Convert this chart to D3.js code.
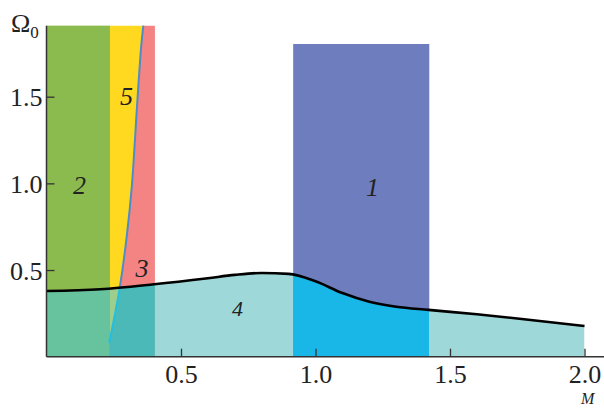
<!DOCTYPE html>
<html>
<head>
<meta charset="utf-8">
<script src="https://cdn.jsdelivr.net/npm/d3@7"></script>
<style>
  html, body { margin: 0; padding: 0; background: #fff; }
  svg { display: block; }
  svg text { font-family: "Liberation Serif", "Times New Roman", Times, "DejaVu Serif", serif !important; fill: #222; }
</style>
</head>
<body>
<svg id="chart" width="604" height="408"></svg>
<script>
// Upper boundary curve Ω0(M) of region 4
const curveM     = [0, 0.2, 0.4, 0.6, 0.7, 0.8, 0.9, 1.0, 1.1, 1.2, 1.3, 1.42, 1.6, 1.8, 2.0];
const curveOmega = [0.379, 0.389, 0.418, 0.453, 0.472, 0.483, 0.478, 0.435, 0.367, 0.317, 0.288, 0.27, 0.245, 0.212, 0.177];

// Line separating region 5 from region 3
const boundaryM     = [0.233, 0.255, 0.273, 0.298, 0.317, 0.338, 0.352, 0.360];
const boundaryOmega = [0.079, 0.25, 0.404, 0.69, 0.98, 1.48, 1.79, 1.91];

// Vertical zone edges along M
const zoneEdges = [0, 0.236, 0.403, 0.917, 1.423, 2.0];
const omegaTop = 1.91;      // top of regions 2, 3, 5
const rect1Top = 1.804;     // top of region 1

// Axis ticks
const xTicks = [0.5, 1.0, 1.5, 2.0];
const yTicks = [0.5, 1.0, 1.5];

// Region labels
const regionLabels = ["1", "2", "3", "4", "5"];
const labelM     = [1.212, 0.123, 0.355, 0.71, 0.297];
const labelOmega = [0.979, 0.988, 0.51, 0.275, 1.50];
const labelSize  = [26, 26, 26, 22, 26];

const colors = {
  green: "#8bbb4f", yellow: "#ffd920", pink: "#f38483", purple: "#6d7dbd",
  greenLow: "#66c39e", yellowLow: "#9dce8d", pinkLow: "#4ab9b7",
  plain: "#9ed8d9", purpleLow: "#19b7e8",
  lineUp: "#4d8cc8", lineLow: "#22c0e0"
};

const svg = d3.select("#chart");
const x = d3.scaleLinear().domain([0, 2.0]).range([46.5, 584.5]);
const y = d3.scaleLinear().domain([0, 1.5]).range([356.7, 96.7]);

const curvePts = curveM.map((m, i) => [m, curveOmega[i]]);
const boundPts = boundaryM.map((m, i) => [m, boundaryOmega[i]]);

const defs = svg.append("defs");
const curveGen = d3.line().x(d => x(d[0])).y(d => y(d[1])).curve(d3.curveMonotoneX);
const smoothGen = d3.line().x(d => x(d[0])).y(d => y(d[1])).curve(d3.curveCatmullRom);
const polyGen = d3.line().x(d => x(d[0])).y(d => y(d[1]));

// clip: region under the curve
defs.append("clipPath").attr("id", "below")
  .append("path")
  .attr("d", d3.area().x(d => x(d[0])).y0(y(0)).y1(d => y(d[1])).curve(d3.curveMonotoneX)(curvePts));
// clip: region above the curve
defs.append("clipPath").attr("id", "above")
  .append("path")
  .attr("d", d3.area().x(d => x(d[0])).y0(0).y1(d => y(d[1])).curve(d3.curveMonotoneX)(curvePts));

// polygons for the zones split by the 5/3 boundary
const boundTopDown = boundPts.slice().reverse();
const zone5 = [[zoneEdges[1], 0], [zoneEdges[1], omegaTop], ...boundTopDown, [boundaryM[0], 0]];
const zone3 = [...boundPts, [zoneEdges[2], omegaTop], [zoneEdges[2], 0], [boundaryM[0], 0]];

function rect(g, m0, m1, o0, o1, fill) {
  g.append("rect")
    .attr("x", x(m0)).attr("y", y(o1))
    .attr("width", x(m1) - x(m0)).attr("height", y(o0) - y(o1))
    .attr("fill", fill);
}
function poly(g, pts, fill) {
  g.append("path").attr("d", polyGen(pts) + "Z").attr("fill", fill);
}

// upper layer
const up = svg.append("g");
rect(up, zoneEdges[0], zoneEdges[1], 0, omegaTop, colors.green);
poly(up, zone5, colors.yellow);
poly(up, zone3, colors.pink);
rect(up, zoneEdges[3], zoneEdges[4], 0, rect1Top, colors.purple);

// layer under the curve (region 4)
const low = svg.append("g").attr("clip-path", "url(#below)");
rect(low, zoneEdges[0], zoneEdges[1], 0, 1, colors.greenLow);
poly(low, zone5, colors.yellowLow);
poly(low, zone3, colors.pinkLow);
rect(low, zoneEdges[2], zoneEdges[3], 0, 1, colors.plain);
rect(low, zoneEdges[3], zoneEdges[4], 0, 1, colors.purpleLow);
rect(low, zoneEdges[4], zoneEdges[5], 0, 1, colors.plain);

// boundary line between 5 and 3
svg.append("path").attr("d", smoothGen(boundPts)).attr("fill", "none")
  .attr("stroke", colors.lineUp).attr("stroke-width", 2).attr("clip-path", "url(#above)");
svg.append("path").attr("d", smoothGen(boundPts)).attr("fill", "none")
  .attr("stroke", colors.lineLow).attr("stroke-width", 2).attr("clip-path", "url(#below)");

// black curve
svg.append("path").attr("d", curveGen(curvePts)).attr("fill", "none")
  .attr("stroke", "#000").attr("stroke-width", 2.6);

// region labels
svg.append("g").selectAll("text").data(regionLabels).join("text")
  .attr("x", (d, i) => x(labelM[i])).attr("y", (d, i) => y(labelOmega[i]))
  .attr("text-anchor", "middle").attr("dy", "0.33em")
  .attr("font-style", "italic").attr("font-size", (d, i) => labelSize[i])
  .text(d => d);

// axes
const axisColor = "#333";
const xAxis = svg.append("g").attr("transform", `translate(0,${y(0)})`)
  .call(d3.axisBottom(x).tickValues(xTicks).tickFormat(d3.format(".1f")).tickSizeInner(-8).tickSizeOuter(0));
xAxis.select(".domain").remove();
xAxis.append("line").attr("x1", x(0)).attr("x2", 604).attr("stroke", axisColor).attr("stroke-width", 1.5);
xAxis.selectAll(".tick line").attr("stroke", axisColor).attr("stroke-width", 1.3);
xAxis.selectAll(".tick text").attr("y", 26.5).attr("dy", null)
  .attr("font-size", 26).attr("fill", "#222");

const yAxis = svg.append("g").attr("transform", `translate(${x(0)},0)`)
  .call(d3.axisLeft(y).tickValues(yTicks).tickFormat(d3.format(".1f")).tickSizeInner(-8).tickSizeOuter(0).tickPadding(4));
yAxis.select(".domain").remove();
yAxis.append("line").attr("y1", y(0)).attr("y2", y(omegaTop)).attr("stroke", axisColor).attr("stroke-width", 1.5);
yAxis.selectAll(".tick line").attr("stroke", axisColor).attr("stroke-width", 1.3);
yAxis.selectAll(".tick text").attr("dy", "0.35em")
  .attr("font-size", 26).attr("fill", "#222");

// axis titles
const yTitle = svg.append("text").attr("x", 11).attr("y", 32).attr("font-size", 26);
yTitle.append("tspan").text("Ω");
yTitle.append("tspan").attr("dy", 6).attr("font-size", 17).text("0");
svg.append("text").attr("x", 581).attr("y", 404).attr("font-size", 16)
  .attr("font-style", "italic").text("M");
</script>
</body>
</html>
